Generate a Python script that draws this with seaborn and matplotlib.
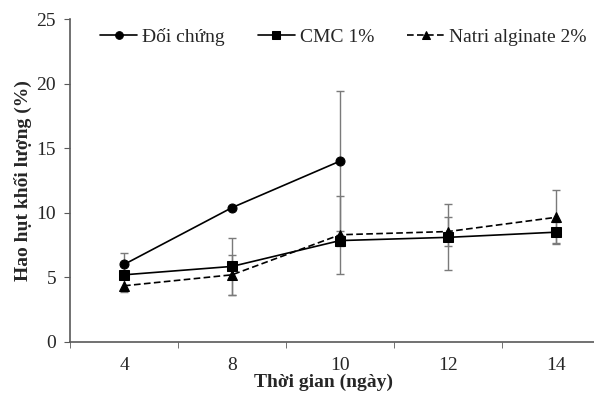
import numpy as np
import pandas as pd
import matplotlib.pyplot as plt
import seaborn as sns

days = ['4', '8', '10', '12', '14']

doi_chung = [6.0, 10.4, 14.0, np.nan, np.nan]
doi_chung_err = [0.9, 0.0, 5.4, np.nan, np.nan]

cmc = [5.2, 5.85, 7.85, 8.1, 8.5]
cmc_err = [0.3, 2.2, 0.4, 2.55, 0.8]

natri = [4.35, 5.2, 8.3, 8.55, 9.65]
natri_err = [0.5, 1.55, 3.0, 1.1, 2.1]

series = [('Đối chứng', doi_chung, doi_chung_err, 'o', ''),
          ('CMC 1%', cmc, cmc_err, 's', ''),
          ('Natri alginate 2%', natri, natri_err, '^', (4, 2))]

rows = []
for name, vals, errs, _, _ in series:
    for i, (v, e) in enumerate(zip(vals, errs)):
        rows.append({'pos': i, 'value': v, 'err': e, 'series': name})
df = pd.DataFrame(rows)

sns.set_style('ticks')
plt.rcParams['font.family'] = ['Liberation Serif', 'DejaVu Serif']

fig = plt.figure(figsize=(5.94, 3.95), dpi=100)
ax = fig.add_axes([70 / 594, (395 - 342) / 395, 540 / 594, 323 / 395])

for name, vals, errs, mk, dash in series:
    ax.errorbar(range(len(days)), vals, yerr=errs, fmt='none', ecolor='#7a7a7a',
                elinewidth=1.0, capsize=3, capthick=1.0, zorder=1)

sns.lineplot(data=df.dropna(), x='pos', y='value', hue='series', style='series',
             markers={s[0]: s[3] for s in series},
             dashes={s[0]: s[4] for s in series},
             palette={s[0]: 'black' for s in series},
             markersize=6.5, linewidth=1.2, markeredgecolor='black',
             ax=ax, zorder=3)

ax.set_xlim(-0.5, 4.5)
ax.set_ylim(0, 25)
ax.set_yticks(range(0, 26, 5))
ax.set_xticks(range(len(days)))
ax.set_xticklabels(days)
ax.set_xticks(np.arange(-0.5, 5, 1), minor=True)
ax.tick_params(axis='x', which='major', length=0, labelsize=14, pad=11)
ax.tick_params(axis='x', which='minor', length=4, color='#595959')
ax.tick_params(axis='y', length=4, color='#595959', labelsize=14, pad=6)
for s in ['left', 'bottom']:
    ax.spines[s].set_color('#595959')
    ax.spines[s].set_linewidth(1.2)
sns.despine(ax=ax)

ax.set_xlabel('Thời gian (ngày)', fontsize=14, fontweight='bold')
ax.xaxis.set_label_coords(0.47, -0.098)
ax.set_ylabel('Hao hụt khối lượng (%)', fontsize=14, fontweight='bold', labelpad=3)

ax.legend(loc='center left', bbox_to_anchor=(0.056, 0.945), ncol=3, frameon=False,
          fontsize=14, handlelength=1.9, handletextpad=0.26, columnspacing=1.7,
          borderaxespad=0, borderpad=0, markerscale=0.85)

fig.savefig('out.png', dpi=100)
